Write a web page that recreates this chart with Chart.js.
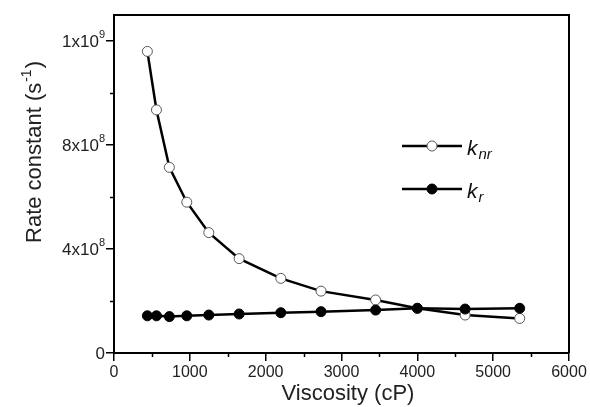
<!DOCTYPE html>
<html>
<head>
<meta charset="utf-8">
<script src="https://cdn.jsdelivr.net/npm/chart.js@4.4.0/dist/chart.umd.min.js"></script>
<style>
  html, body { margin: 0; padding: 0; background: #fff; }
  #wrap { width: 590px; height: 407px; }
</style>
</head>
<body>
<div id="wrap"><canvas id="myChart" width="590" height="407"></canvas></div>
<script>
// values (y in the axis' own units of 1e8 s^-1)
const viscosity = [440, 560, 730, 960, 1250, 1650, 2200, 2730, 3450, 4000, 4630, 5350];
const knrValues = [11.6, 9.35, 7.14, 5.8, 4.63, 3.63, 2.87, 2.38, 2.04, 1.72, 1.46, 1.33];
const krValues = [1.43, 1.43, 1.4, 1.43, 1.46, 1.5, 1.55, 1.59, 1.65, 1.72, 1.69, 1.72];

const yTickValues = [0, 4, 8, 12];
const yTickLabels = ['0', '4x10', '8x10', '1x10'];
const yTickExponents = ['', '8', '8', '9'];
const yMinorTicks = [2, 6, 10];
const xMinorTicks = [500, 1500, 2500, 3500, 4500, 5500];

const FONT = '"Liberation Sans", Arial, sans-serif';
const ctx = document.getElementById('myChart').getContext('2d');

const toPoints = (ys) => viscosity.map((x, i) => ({ x: x, y: ys[i] }));

const extras = {
  id: 'extras',
  afterDraw(chart) {
    const c = chart.ctx;
    const area = chart.chartArea;
    const xs = chart.scales.x;
    const ys = chart.scales.y;
    c.save();

    // top and right frame
    c.strokeStyle = '#000';
    c.lineWidth = 2;
    c.beginPath();
    c.moveTo(area.left, area.top);
    c.lineTo(area.right, area.top);
    c.lineTo(area.right, area.bottom);
    c.stroke();

    // minor ticks
    c.lineWidth = 1.5;
    c.beginPath();
    xMinorTicks.forEach(v => {
      const px = Math.round(xs.getPixelForValue(v)) + 0.5;
      c.moveTo(px, area.bottom);
      c.lineTo(px, area.bottom + 4);
    });
    yMinorTicks.forEach(v => {
      const py = Math.round(ys.getPixelForValue(v)) + 0.5;
      c.moveTo(area.left, py);
      c.lineTo(area.left - 4, py);
    });
    c.stroke();

    // y tick labels with exponents
    c.fillStyle = '#222';
    c.textBaseline = 'middle';
    c.textAlign = 'left';
    yTickValues.forEach((v, i) => {
      const py = ys.getPixelForValue(v);
      const right = area.left - 9;
      c.font = '11px ' + FONT;
      const ew = yTickExponents[i] ? c.measureText(yTickExponents[i]).width : 0;
      c.font = '17px ' + FONT;
      const mw = c.measureText(yTickLabels[i]).width;
      c.fillText(yTickLabels[i], right - ew - mw, py + 1);
      if (yTickExponents[i]) {
        c.font = '11px ' + FONT;
        c.fillText(yTickExponents[i], right - ew, py - 6);
      }
    });

    // y title
    c.save();
    c.translate(41, 153);
    c.rotate(-Math.PI / 2);
    c.textBaseline = 'alphabetic';
    c.font = '22px ' + FONT;
    const t1 = 'Rate constant (s';
    const t3 = ')';
    const w1 = c.measureText(t1).width;
    const w3 = c.measureText(t3).width;
    c.font = '14px ' + FONT;
    const t2 = '-1';
    const w2 = c.measureText(t2).width;
    let sx = -(w1 + w2 + w3) / 2;
    c.font = '22px ' + FONT;
    c.fillText(t1, sx, 0);
    c.font = '14px ' + FONT;
    c.fillText(t2, sx + w1 + 1, -10);
    c.font = '22px ' + FONT;
    c.fillText(t3, sx + w1 + w2 + 2, 0);
    c.restore();

    // x title
    c.textAlign = 'center';
    c.textBaseline = 'alphabetic';
    c.font = '22px ' + FONT;
    c.fillText('Viscosity (cP)', 348, 400);

    // legend
    const rows = [
      { y: 146, sub: 'nr', fill: '#fff', stroke: '#555' },
      { y: 189, sub: 'r', fill: '#000', stroke: '#000' }
    ];
    rows.forEach(r => {
      c.strokeStyle = '#000';
      c.lineWidth = 2.5;
      c.beginPath();
      c.moveTo(402, r.y);
      c.lineTo(462, r.y);
      c.stroke();
      c.beginPath();
      c.arc(432, r.y, 5, 0, Math.PI * 2);
      c.fillStyle = r.fill;
      c.fill();
      c.lineWidth = 1;
      c.strokeStyle = r.stroke;
      c.stroke();
      c.fillStyle = '#111';
      c.textAlign = 'left';
      c.font = 'italic 21px ' + FONT;
      c.fillText('k', 467, r.y + 9);
      const kw = c.measureText('k').width;
      c.font = 'italic 15px ' + FONT;
      c.fillText(r.sub, 467 + kw + 1, r.y + 13);
    });

    c.restore();
  }
};

const chart = new Chart(ctx, {
  type: 'scatter',
  data: {
    datasets: [{
      label: 'k_r',
      data: toPoints(krValues),
      showLine: true,
      borderColor: '#000',
      borderWidth: 2.5,
      pointRadius: 5,
      pointBackgroundColor: '#000',
      pointBorderColor: '#000',
      pointBorderWidth: 1,
      order: 0,
    }, {
      label: 'k_nr',
      data: toPoints(knrValues),
      showLine: true,
      borderColor: '#000',
      borderWidth: 2.5,
      pointRadius: 5,
      pointBackgroundColor: '#fff',
      pointBorderColor: '#555',
      pointBorderWidth: 1,
      order: 1,
    }],
  },
  options: {
    responsive: false,
    animation: false,
    layout: { padding: { top: 15, right: 21, left: 0, bottom: 0 } },
    plugins: {
      legend: { display: false },
      tooltip: { enabled: false },
    },
    scales: {
      x: {
        type: 'linear',
        min: 0,
        max: 6000,
        afterFit: (s) => { s.height = 54; },
        ticks: {
          stepSize: 1000,
          color: '#222',
          font: { family: FONT, size: 16 },
          padding: 2,
          maxRotation: 0,
          callback: (v) => String(v),
        },
        grid: {
          drawOnChartArea: false,
          drawTicks: true,
          tickLength: 8,
          color: '#000',
          lineWidth: 1.5,
        },
        border: { display: true, color: '#000', width: 2 },
      },
      y: {
        type: 'linear',
        min: 0,
        max: 13,
        afterFit: (s) => { s.width = 114; },
        afterBuildTicks: (s) => { s.ticks = yTickValues.map(v => ({ value: v })); },
        ticks: { display: false },
        grid: {
          drawOnChartArea: false,
          drawTicks: true,
          tickLength: 8,
          color: '#000',
          lineWidth: 1.5,
        },
        border: { display: true, color: '#000', width: 2 },
      },
    },
  },
  plugins: [extras],
});
</script>
</body>
</html>
